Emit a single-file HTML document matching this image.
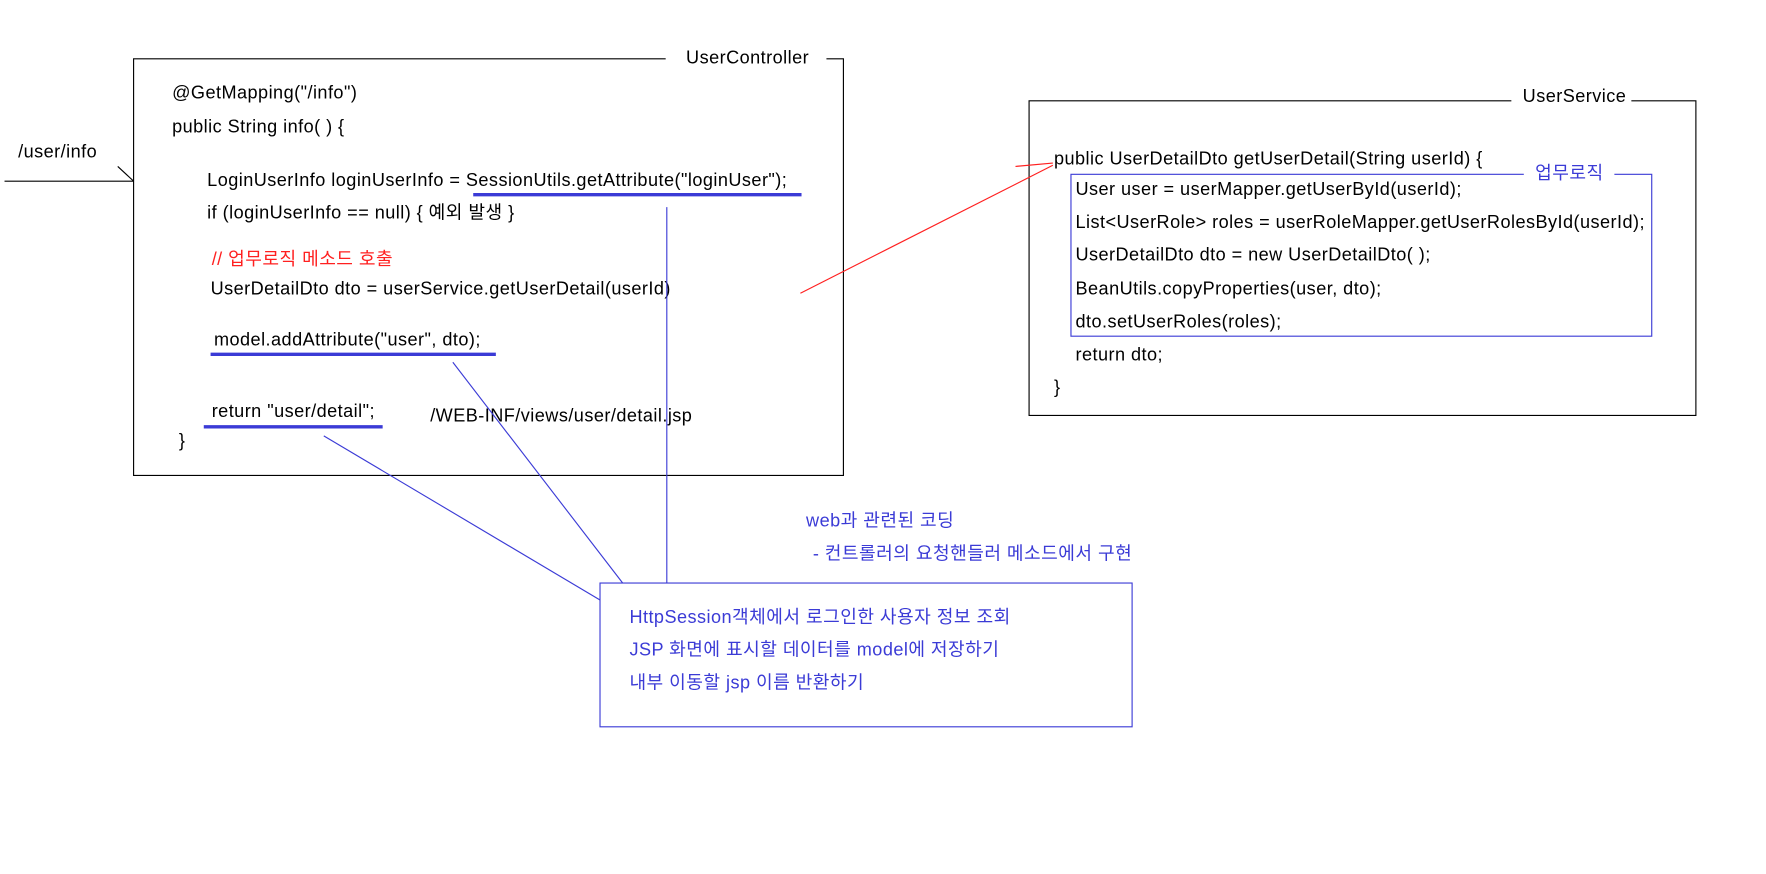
<!DOCTYPE html>
<html><head><meta charset="utf-8"><style>
html,body{margin:0;padding:0;background:#fff;width:1766px;height:874px;overflow:hidden}
svg{position:absolute;left:0;top:0;transform:scale(1.1321);transform-origin:0 0}
text{font-family:"Liberation Sans","Noto Sans CJK KR","NanumGothic",sans-serif;font-size:16px;letter-spacing:0.4px;dominant-baseline:middle;fill:#000}
.b{fill:#3b3bd6}.r{fill:#ff2020}
</style></head><body>
<svg width="1560" height="772" viewBox="0 0 1560 772">
<rect x="0" y="0" width="1560" height="772" fill="#fff"/>
<path d="M588 52 H118 V420 H745 V52 H730" fill="none" stroke="#000" stroke-width="1"/>
<text x="606" y="52">UserController</text>
<path d="M1335 89 H909 V367 H1498 V89 H1441" fill="none" stroke="#000" stroke-width="1"/>
<text x="1345" y="86">UserService</text>
<path d="M1346 154 H946 V297 H1459 V154 H1426" fill="none" stroke="#3b3bd6" stroke-width="1"/>
<text x="1356" y="154" class="b">업무로직</text>
<text x="16" y="135">/user/info</text>
<line x1="4" y1="160" x2="118" y2="160" stroke="#000"/>
<line x1="104" y1="147" x2="118" y2="160" stroke="#000"/>
<text x="152" y="83">@GetMapping("/info")</text>
<text x="152" y="113">public String info( ) {</text>
<text x="183" y="160">LoginUserInfo loginUserInfo = SessionUtils.getAttribute("loginUser");</text>
<text x="183" y="189">if (loginUserInfo == null) { 예외 발생 }</text>
<text x="187" y="230" class="r">// 업무로직 메소드 호출</text>
<text x="186" y="256">UserDetailDto dto = userService.getUserDetail(userId)</text>
<text x="189" y="301">model.addAttribute("user", dto);</text>
<text x="187" y="364">return "user/detail";</text>
<text x="380" y="368">/WEB-INF/views/user/detail.jsp</text>
<text x="158" y="390">}</text>
<line x1="418" y1="172" x2="708" y2="172" stroke="#3b3bd6" stroke-width="3"/>
<line x1="186" y1="313" x2="438" y2="313" stroke="#3b3bd6" stroke-width="3"/>
<line x1="180" y1="377" x2="338" y2="377" stroke="#3b3bd6" stroke-width="3"/>
<line x1="589" y1="183" x2="589" y2="515" stroke="#3b3bd6"/>
<line x1="400" y1="320" x2="550" y2="515" stroke="#3b3bd6"/>
<line x1="286" y1="385" x2="530" y2="530" stroke="#3b3bd6"/>
<line x1="707" y1="259" x2="930" y2="146" stroke="#ff2020"/>
<line x1="897" y1="147" x2="930" y2="144" stroke="#ff2020"/>
<text x="931" y="141">public UserDetailDto getUserDetail(String userId) {</text>
<text x="950" y="168">User user = userMapper.getUserById(userId);</text>
<text x="950" y="197">List&lt;UserRole&gt; roles = userRoleMapper.getUserRolesById(userId);</text>
<text x="950" y="226">UserDetailDto dto = new UserDetailDto( );</text>
<text x="950" y="256">BeanUtils.copyProperties(user, dto);</text>
<text x="950" y="285">dto.setUserRoles(roles);</text>
<text x="950" y="314">return dto;</text>
<text x="931" y="343">}</text>
<text x="712" y="461" class="b">web과 관련된 코딩</text>
<text x="718" y="490" class="b">- 컨트롤러의 요청핸들러 메소드에서 구현</text>
<rect x="530" y="515" width="470" height="127" fill="none" stroke="#3b3bd6"/>
<text x="556" y="546" class="b">HttpSession객체에서 로그인한 사용자 정보 조회</text>
<text x="556" y="575" class="b">JSP 화면에 표시할 데이터를 model에 저장하기</text>
<text x="556" y="604" class="b">내부 이동할 jsp 이름 반환하기</text>
</svg>
</body></html>
